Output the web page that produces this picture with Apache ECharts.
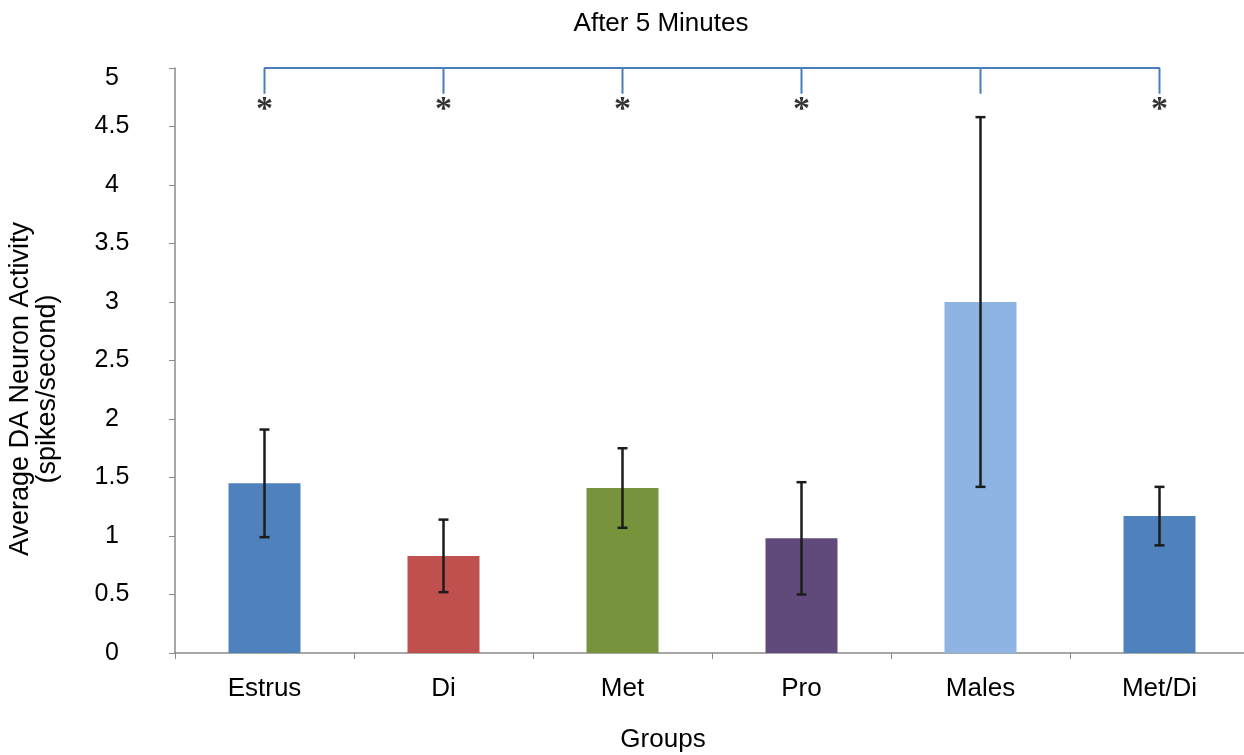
<!DOCTYPE html>
<html>
<head>
<meta charset="utf-8">
<script src="https://cdn.jsdelivr.net/npm/echarts@6/dist/echarts.min.js"></script>
<style>
  html, body { margin: 0; padding: 0; background: #ffffff; }
  #chart { width: 1244px; height: 755px; }
</style>
</head>
<body>
<div id="chart"></div>
<script>
// Groups and their mean firing rates with error half-widths
const categories = ['Estrus', 'Di', 'Met', 'Pro', 'Males', 'Met/Di'];
const means = [1.45, 0.83, 1.41, 0.98, 3.00, 1.17];
const errors = [0.46, 0.31, 0.34, 0.48, 1.58, 0.25];
const barColors = ['#4F81BD', '#C0504D', '#77933C', '#604A7B', '#8EB4E3', '#4F81BD'];
// Groups marked as significantly different from Males
const significant = [true, true, true, true, false, true];
const yTicks = [0, 0.5, 1, 1.5, 2, 2.5, 3, 3.5, 4, 4.5, 5];

// Bracket across the top: horizontal bar at 5 with a drop at every group
const bracketTop = 5;
const bracketDrop = 4.78;
const starLevel = 4.71;

const FONT = '"Liberation Sans", Arial, sans-serif';

const bracketData = [];
categories.forEach((c, i) => {
  bracketData.push([i, bracketTop]);
  bracketData.push([i, bracketDrop]);
  bracketData.push([i, bracketTop]);
});

const starData = [];
categories.forEach((c, i) => {
  if (significant[i]) starData.push([i, starLevel]);
});

const chart = echarts.init(document.getElementById('chart'), null, { renderer: 'canvas' });

chart.setOption({
  backgroundColor: '#ffffff',
  animation: false,
  grid: { left: 175, top: 68, width: 1074, height: 585, containLabel: false, outerBoundsMode: 'none' },
  graphic: [
    {
      type: 'text', x: 661, y: 24,
      style: { text: 'After 5 Minutes', font: '26px ' + FONT, fill: '#000', textAlign: 'center', textVerticalAlign: 'middle' }
    },
    {
      type: 'text', x: 663, y: 740,
      style: { text: 'Groups', font: '26px ' + FONT, fill: '#000', textAlign: 'center', textVerticalAlign: 'middle' }
    },
    {
      type: 'text', x: 34, y: 389, rotation: Math.PI / 2,
      style: {
        text: 'Average DA Neuron Activity\n(spikes/second)',
        font: '27px ' + FONT, lineHeight: 27, fill: '#000',
        textAlign: 'center', textVerticalAlign: 'middle'
      }
    }
  ],
  xAxis: {
    type: 'category',
    data: categories,
    boundaryGap: true,
    axisLine: { show: true, lineStyle: { color: '#8a8a8a', width: 1.5 } },
    axisTick: { show: true, alignWithLabel: false, length: 6, inside: false, lineStyle: { color: '#8a8a8a' } },
    axisLabel: { color: '#000', fontSize: 26, fontFamily: FONT, margin: 23 },
    splitLine: { show: false }
  },
  yAxis: {
    type: 'value',
    min: 0, max: 5, interval: 0.5,
    axisLine: { show: true, lineStyle: { color: '#8a8a8a', width: 1.5 } },
    axisTick: { show: true, length: 6, lineStyle: { color: '#8a8a8a' } },
    axisLabel: {
      color: '#000', fontSize: 25, fontFamily: FONT, margin: 63, align: 'center',
      formatter: v => (yTicks.indexOf(v) === yTicks.length - 1 ? '{top|' + v + '}' : String(v)),
      rich: { top: { fontSize: 25, fontFamily: FONT, color: '#000', padding: [20, 0, 0, 0] } }
    },
    splitLine: { show: false }
  },
  series: [
    {
      type: 'bar',
      barWidth: 72,
      data: means.map((v, i) => ({ value: v, itemStyle: { color: barColors[i] } })),
      z: 2
    },
    {
      // Error bars with caps
      type: 'custom',
      z: 5,
      data: means.map((m, i) => [i, m - errors[i], m + errors[i]]),
      renderItem: (params, api) => {
        const x = api.coord([api.value(0), 0])[0];
        const lo = api.coord([api.value(0), api.value(1)])[1];
        const hi = api.coord([api.value(0), api.value(2)])[1];
        const cap = 5;
        const style = { stroke: '#1c1c1c', lineWidth: 2.5 };
        return {
          type: 'group',
          children: [
            { type: 'line', shape: { x1: x, y1: hi, x2: x, y2: lo }, style },
            { type: 'line', shape: { x1: x - cap, y1: hi, x2: x + cap, y2: hi }, style },
            { type: 'line', shape: { x1: x - cap, y1: lo, x2: x + cap, y2: lo }, style }
          ]
        };
      }
    },
    {
      // Significance bracket
      type: 'line',
      data: bracketData,
      clip: false,
      symbol: 'none',
      lineStyle: { color: '#4A7EBB', width: 2 },
      z: 4
    },
    {
      // Asterisks under the bracket drops
      type: 'scatter',
      data: starData,
      clip: false,
      symbolSize: 0,
      label: {
        show: true, position: 'inside', formatter: '*',
        fontFamily: '"Liberation Serif", "Times New Roman", serif',
        fontWeight: 'bold',
        fontSize: 34, color: '#000', offset: [0, 8]
      },
      z: 6
    }
  ]
});
</script>
</body>
</html>
